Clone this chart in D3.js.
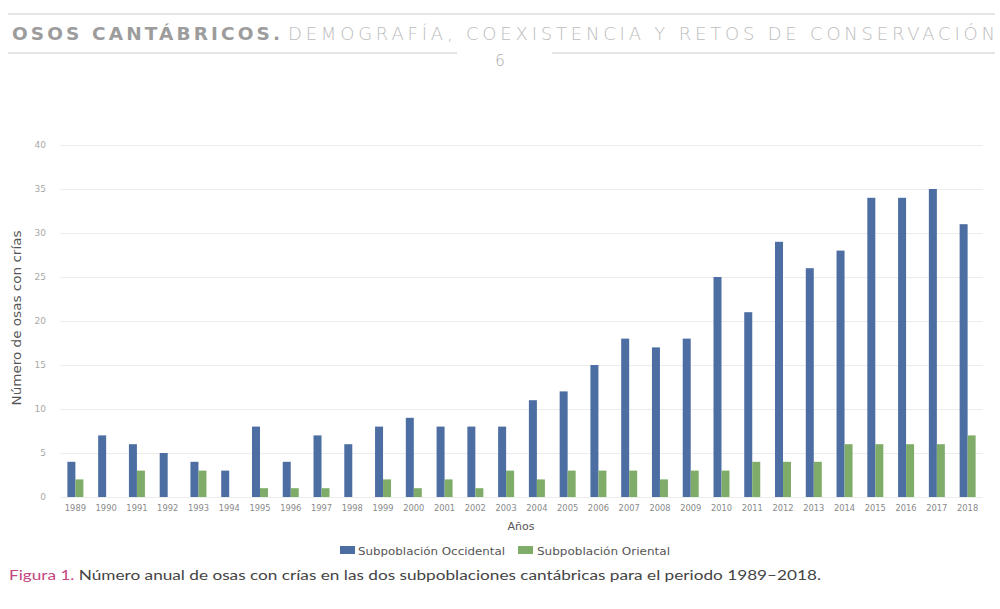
<!DOCTYPE html>
<html><head><meta charset="utf-8">
<script src="https://cdn.jsdelivr.net/npm/d3@7"></script>
<style>
body{margin:0;background:#fff;}
svg{display:block;font-family:"DejaVu Sans",Lato,sans-serif;}
</style></head>
<body>
<svg id="c" width="1000" height="609"></svg>
<script>
const years = ["1989","1990","1991","1992","1993","1994","1995","1996","1997","1998","1999","2000","2001","2002","2003","2004","2005","2006","2007","2008","2009","2010","2011","2012","2013","2014","2015","2016","2017","2018"];
const occidental = [4,7,6,5,4,3,8,4,7,6,8,9,8,8,8,11,12,15,18,17,18,25,21,29,26,28,34,34,35,31];
const oriental   = [2,0,3,0,3,0,1,1,1,0,2,1,2,1,3,2,3,3,3,2,3,3,4,4,4,6,6,6,6,7];
const seriesNames = ["Subpoblación Occidental","Subpoblación Oriental"];
const seriesColors = ["#4d6ea3","#7fac69"];
const yTicks = [0,5,10,15,20,25,30,35,40];

const svg = d3.select("#c");

// Header
svg.append("line").attr("x1",8).attr("x2",995).attr("y1",14).attr("y2",14).attr("stroke","#dcdcdc").attr("stroke-width",1.5);
svg.append("line").attr("x1",8).attr("x2",457).attr("y1",53).attr("y2",53).attr("stroke","#dcdcdc").attr("stroke-width",1.5);
svg.append("line").attr("x1",552).attr("x2",995).attr("y1",53).attr("y2",53).attr("stroke","#dcdcdc").attr("stroke-width",1.5);
svg.append("text").attr("x",12).attr("y",40).attr("font-size",18.5).attr("font-weight",700)
  .attr("font-family","'DejaVu Sans',sans-serif")
  .attr("fill","#9c9c9c").attr("textLength",268).attr("lengthAdjust","spacing").text("OSOS CANTÁBRICOS.");
svg.append("text").attr("x",288).attr("y",40).attr("font-size",18).attr("font-weight",200)
  .attr("font-family","'DejaVu Sans',sans-serif")
  .attr("fill","#bdbdbd").attr("textLength",707).attr("lengthAdjust","spacing").text("DEMOGRAFÍA, COEXISTENCIA Y RETOS DE CONSERVACIÓN");
svg.append("text").attr("x",500).attr("y",66).attr("font-size",15).attr("fill","#a8a8a8").attr("text-anchor","middle").attr("font-weight",200).text("6");

// Scales
const x0 = d3.scaleBand().domain(years).range([60,983]).paddingInner(0.48).paddingOuter(0.24);
const x1 = d3.scaleBand().domain(seriesNames).range([0,x0.bandwidth()]);
const y = d3.scaleLinear().domain([0,40]).range([497,145]);

// Grid
const yAxis = d3.axisLeft(y).tickValues(yTicks).tickSize(-(983-60)).tickPadding(14);
const gy = svg.append("g").attr("transform","translate(60,0)").call(yAxis);
gy.select(".domain").remove();
gy.selectAll(".tick line").attr("stroke","#ececec").attr("stroke-width",1.2);
gy.selectAll(".tick text").attr("fill","#a8a8a8").attr("font-size",9).attr("font-family","'DejaVu Sans',sans-serif");

// Bars
const data = years.map((yr,i)=>({year:yr, vals:[occidental[i],oriental[i]]}));
const groups = svg.append("g").selectAll("g").data(data).join("g")
  .attr("transform",d=>`translate(${x0(d.year)},0)`);
groups.selectAll("rect").data(d=>d.vals.map((v,j)=>({name:seriesNames[j],v,j}))).join("rect")
  .attr("x",d=>x1(d.name)).attr("width",x1.bandwidth())
  .attr("y",d=>y(d.v)).attr("height",d=>y(0)-y(d.v))
  .attr("fill",d=>seriesColors[d.j]);

// X axis
const xAxis = d3.axisBottom(x0).tickSize(0).tickPadding(6);
const gx = svg.append("g").attr("transform","translate(0,499)").call(xAxis);
gx.select(".domain").remove();
gx.selectAll(".tick text").attr("fill","#8a8a8a").attr("font-size",8.3).attr("font-family","'DejaVu Sans',sans-serif");

// Axis titles
svg.append("text").attr("x",521).attr("y",530).attr("text-anchor","middle").attr("font-size",11).attr("fill","#555").text("Años");
svg.append("text").attr("transform","translate(21,318) rotate(-90)").attr("text-anchor","middle").attr("font-size",12)
  .attr("textLength",175).attr("lengthAdjust","spacingAndGlyphs").attr("fill","#555").text("Número de osas con crías");

// Legend
const legend = [{x:340,tx:358,w:147},{x:518,tx:537,w:133}];
seriesNames.forEach((n,i)=>{
  svg.append("rect").attr("x",legend[i].x).attr("y",546).attr("width",15).attr("height",8).attr("fill",seriesColors[i]);
  svg.append("text").attr("x",legend[i].tx).attr("y",554.5).attr("font-size",11)
    .attr("textLength",legend[i].w).attr("lengthAdjust","spacingAndGlyphs").attr("fill","#555").text(n);
});

// Caption
const cap = svg.append("text").attr("x",9).attr("y",580).attr("font-size",12.5).attr("fill","#444")
  .attr("font-family","Lato,sans-serif")
  .attr("textLength",812).attr("lengthAdjust","spacingAndGlyphs");
cap.append("tspan").attr("fill","#c4467f").text("Figura 1.");
cap.append("tspan").text(" Número anual de osas con crías en las dos subpoblaciones cantábricas para el periodo 1989–2018.");
</script>
</body></html>
